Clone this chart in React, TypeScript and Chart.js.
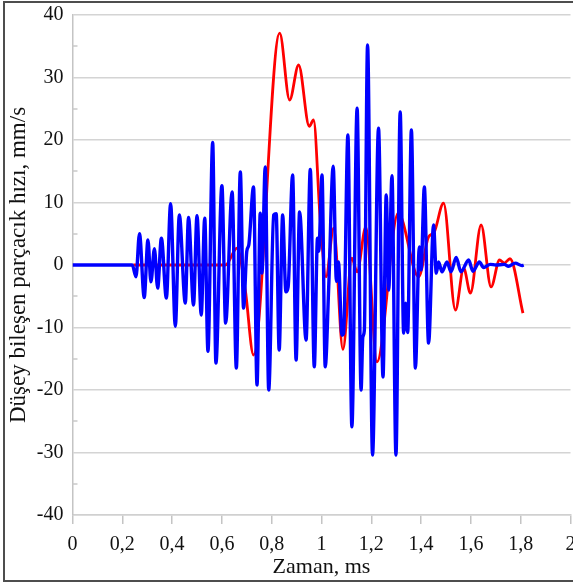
import React, { useEffect, useRef } from "react";
import { Chart, registerables } from "chart.js";

Chart.register(...registerables);

// Düşey bileşen hız kaydı (mm/s) – zaman (ms)
const blueTime = [
  0, 0.24, 0.255, 0.269, 0.288, 0.303, 0.315, 0.329, 0.342, 0.357, 0.377, 0.394,
  0.413, 0.429, 0.453, 0.466, 0.486, 0.5, 0.517, 0.531, 0.544, 0.563, 0.576, 0.6,
  0.615, 0.641, 0.658, 0.674, 0.687, 0.7, 0.708, 0.727, 0.741, 0.754, 0.761, 0.774,
  0.788, 0.808, 0.818, 0.83, 0.844, 0.857, 0.866, 0.884, 0.898, 0.912, 0.938, 0.955,
  0.971, 0.984, 0.989, 1.002, 1.015, 1.029, 1.047, 1.06, 1.068, 1.082, 1.089, 1.106,
  1.122, 1.143, 1.159, 1.166, 1.172, 1.185, 1.205, 1.229, 1.247, 1.26, 1.27, 1.283,
  1.299, 1.316, 1.33, 1.338, 1.346, 1.361, 1.377, 1.393, 1.4, 1.413, 1.43, 1.45,
  1.461, 1.47, 1.484, 1.504, 1.52, 1.541, 1.56, 1.591, 1.608, 1.634, 1.651, 1.678,
  1.7, 1.734, 1.751, 1.778, 1.805, 1.812,
];
const blueVel = [
  0, 0, -1.9, 5.0, -5.2, 4.0, -2.7, 2.6, -3.7, 4.3, -5.3, 9.8,
  -9.8, 8.0, -6.1, 7.6, -6.4, 7.9, -8.0, 7.5, -13.8, 19.6, -15.7, 12.7,
  -9.3, 11.7, -16.5, 14.9, -6.9, 2.2, 3.2, 12.5, -19.2, 8.3, -1.3, 15.7,
  -20.0, 8.0, 8.2, -13.6, 8.0, -4.3, -3.5, 14.4, -15.2, 8.5, -12.0, 15.3,
  -16.3, 4.3, 2.2, 14.4, -16.3, -3.5, 15.8, -2.6, 0.5, -11.2, -10.9, 20.8,
  -25.9, 25.1, -20.0, -11.5, -10.5, 35.2, -30.4, 21.9, -17.9, 11.2, -4.0, 14.3,
  -30.4, 24.5, -10.9, -6.1, -10.8, 21.6, -16.5, 2.9, -0.8, 12.5, -12.5, 6.4,
  -1.3, 0.5, -1.1, 0.5, -1.1, 1.2, -1.1, 0.8, -1.0, 0.5, -0.4, 0.1,
  0, 0.1, -0.2, 0.3, -0.1, 0,
];

const redTime = [
  0.244, 0.614, 0.661, 0.694, 0.727, 0.832, 0.872, 0.908, 0.951, 0.968, 0.995,
  1.018, 1.049, 1.086, 1.122, 1.143, 1.178, 1.223, 1.308, 1.39, 1.43, 1.452,
  1.49, 1.538, 1.571, 1.598, 1.641, 1.681, 1.715, 1.734, 1.757, 1.809,
];
const redVel = [
  0, 0, 2.7, -4.0, -14.4, 37.1, 26.4, 32.0, 22.2, 23.2, 7.2,
  -1.9, 5.9, -13.5, 1.1, -1.1, 6.1, -15.5, 8.3, -1.9, 4.5, 5.2,
  9.9, -7.2, -0.5, -4.5, 6.4, -3.5, 0.8, 0.3, 1.0, -7.7,
];

// Y ekseni ara çentikleri
const yMinorTicks = [-35, -25, -15, -5, 5, 15, 25, 35];

const serif = "'Liberation Serif', 'Times New Roman', serif";

const toPoints = (xs: number[], ys: number[]) => xs.map((x, i) => ({ x, y: ys[i] }));

const minorTickPlugin = {
  id: "minorTicks",
  beforeDatasetsDraw(chart: any) {
    const { ctx, chartArea } = chart;
    const y = chart.scales.y;
    ctx.save();
    ctx.strokeStyle = "#c8c8c8";
    ctx.lineWidth = 1.5;
    for (const v of yMinorTicks) {
      const py = Math.round(y.getPixelForValue(v));
      ctx.beginPath();
      ctx.moveTo(chartArea.left, py);
      ctx.lineTo(chartArea.left + 5, py);
      ctx.stroke();
    }
    ctx.restore();
  },
};

export default function App() {
  const ref = useRef<HTMLCanvasElement>(null);

  useEffect(() => {
    const chart = new Chart(ref.current!, {
      type: "line",
      data: {
        datasets: [
          {
            label: "Mavi",
            data: toPoints(blueTime, blueVel),
            borderColor: "#0000ff",
            borderWidth: 3.4,
            pointRadius: 0,
            cubicInterpolationMode: "monotone",
            fill: false,
          },
          {
            label: "Kırmızı",
            data: toPoints(redTime, redVel),
            borderColor: "#ff0000",
            borderWidth: 2.8,
            pointRadius: 0,
            cubicInterpolationMode: "monotone",
            fill: false,
          },
        ],
      },
      options: {
        animation: false,
        responsive: false,
        devicePixelRatio: 1,
        layout: { padding: { top: 15, right: 2.5, bottom: 0, left: 0 } },
        plugins: {
          legend: { display: false },
          tooltip: { enabled: false },
        },
        scales: {
          x: {
            type: "linear",
            min: 0,
            max: 2,
            afterFit: (s: any) => {
              s.height = 69;
              s.paddingLeft = 0;
              s.paddingRight = 0;
            },
            ticks: {
              stepSize: 0.2,
              autoSkip: false,
              maxRotation: 0,
              padding: 8.75,
              color: "#111",
              font: { family: serif, size: 20 },
              callback: (v: any) => String(Number(Number(v).toFixed(1))).replace(".", ","),
            },
            grid: {
              drawOnChartArea: false,
              drawTicks: true,
              tickLength: 9,
              color: "#c4c4c4",
              lineWidth: 1.5,
            },
            border: { display: true, color: "#d0d0d0", width: 1.5 },
            title: {
              display: true,
              text: "Zaman, ms",
              color: "#111",
              font: { family: serif, size: 22 },
              padding: { top: 0, bottom: 3.2 },
            },
          },
          y: {
            min: -40,
            max: 40,
            afterFit: (s: any) => {
              s.width = 72.5;
              s.paddingTop = 0;
              s.paddingBottom = 0;
            },
            ticks: {
              stepSize: 10,
              padding: 9,
              color: "#111",
              font: { family: serif, size: 20 },
            },
            grid: {
              drawTicks: false,
              color: "#d4d4d4",
              lineWidth: 1.5,
            },
            border: { display: true, color: "#c4c4c4", width: 1.5 },
            title: {
              display: true,
              text: "Düşey bileşen parçacık hızı, mm/s",
              color: "#111",
              font: { family: serif, size: 23 },
              padding: { top: 5.2, bottom: 0 },
            },
          },
        },
      },
      plugins: [minorTickPlugin],
    } as any);
    return () => chart.destroy();
  }, []);

  return (
    <div
      style={{
        position: "absolute",
        left: 0,
        top: 0,
        width: 573,
        height: 584,
        overflow: "hidden",
        background: "#fff",
      }}
    >
      <canvas ref={ref} width={573} height={584} style={{ display: "block" }} />
      <div
        style={{
          position: "absolute",
          left: 3,
          top: 1,
          width: 640,
          height: 581,
          boxSizing: "border-box",
          borderTop: "2px solid #4d4d4d",
          borderLeft: "2px solid #4d4d4d",
          borderBottom: "2px solid #4d4d4d",
          pointerEvents: "none",
        }}
      />
    </div>
  );
}
